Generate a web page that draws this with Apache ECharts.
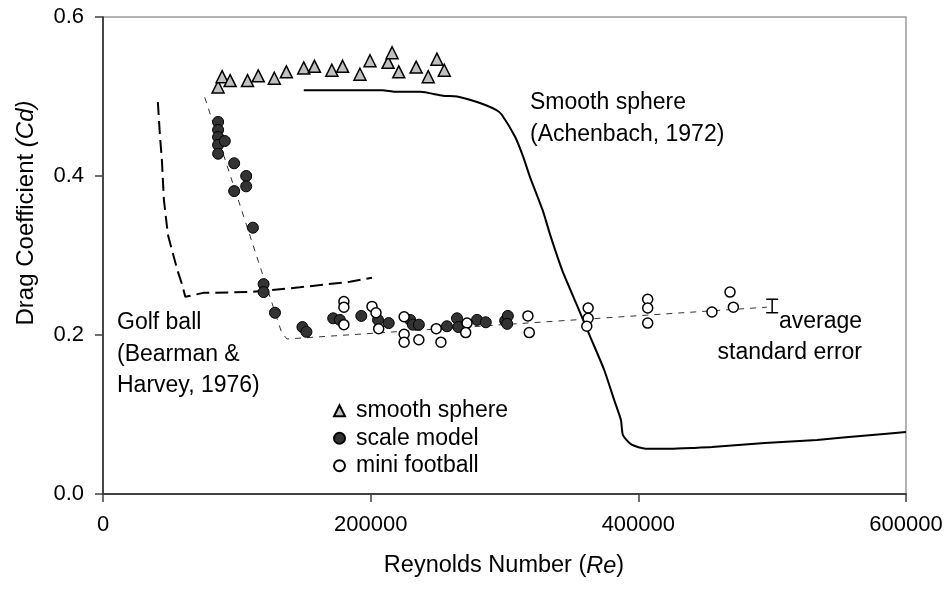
<!DOCTYPE html>
<html>
<head>
<meta charset="utf-8">
<script src="https://cdn.jsdelivr.net/npm/echarts@6/dist/echarts.min.js"></script>
<style>
  html, body { margin: 0; padding: 0; background: #fff; }
  #main { width: 950px; height: 591px; }
</style>
</head>
<body>
<div id="main"></div>
<script>
// smooth sphere wind tunnel points [Re, Cd]
const smoothSphere = [
  [86000, 0.512], [89000, 0.525], [95000, 0.520], [108000, 0.520], [116000, 0.526],
  [128000, 0.523], [137000, 0.531], [150000, 0.536], [158000, 0.538], [171000, 0.533],
  [179000, 0.538], [192000, 0.528], [199500, 0.545], [213000, 0.543], [216000, 0.555],
  [221000, 0.531], [234000, 0.537], [243000, 0.525], [249500, 0.547], [255000, 0.533]
];
// scale model points
const scaleModel = [
  [86000, 0.468], [86000, 0.458], [86000, 0.449], [86000, 0.439], [91000, 0.444],
  [86000, 0.428], [98000, 0.416], [107000, 0.400], [107000, 0.387], [98000, 0.381],
  [112000, 0.335], [120000, 0.264], [120000, 0.254], [128500, 0.228], [149000, 0.210],
  [152000, 0.204], [172000, 0.221], [177000, 0.219], [193000, 0.224], [205500, 0.219],
  [213500, 0.215], [229500, 0.219], [231500, 0.213], [236000, 0.213], [257000, 0.211],
  [264500, 0.221], [265500, 0.210], [279500, 0.219], [286000, 0.216], [300500, 0.218],
  [302500, 0.224], [302000, 0.214]
];
// mini football points
const miniFootball = [
  [180000, 0.242], [180000, 0.235], [180000, 0.213], [201000, 0.236], [204000, 0.228],
  [206000, 0.208], [225000, 0.223], [225000, 0.201], [225000, 0.191], [236000, 0.194],
  [249000, 0.208], [252500, 0.191], [272000, 0.215], [271000, 0.203], [317500, 0.224],
  [318500, 0.203], [362500, 0.234], [362500, 0.221], [361500, 0.211], [407000, 0.245],
  [407000, 0.234], [407000, 0.215], [455000, 0.229], [468500, 0.254], [471000, 0.235]
];
// Achenbach (1972) smooth sphere curve
const achenbach = [
  [150000, 0.508], [201000, 0.508], [209000, 0.508], [218000, 0.506], [237000, 0.506],
  [254000, 0.501], [264500, 0.500], [279500, 0.493], [294000, 0.483], [298000, 0.477],
  [308000, 0.449], [314000, 0.424], [319000, 0.399], [328500, 0.357], [334500, 0.324],
  [343000, 0.282], [353500, 0.240], [364000, 0.198], [374500, 0.156], [382000, 0.118],
  [387000, 0.093], [388500, 0.074], [395000, 0.062], [405500, 0.057], [423500, 0.057],
  [442000, 0.058], [455000, 0.059], [494500, 0.064], [533500, 0.068], [572500, 0.074],
  [600000, 0.078]
];
// golf ball (Bearman & Harvey, 1976)
const golfBall = [
  [41000, 0.493], [42500, 0.452], [44000, 0.420], [45500, 0.370], [48500, 0.326],
  [51500, 0.307], [55500, 0.282], [59000, 0.264], [61500, 0.248], [75000, 0.253],
  [110000, 0.254], [147000, 0.260], [184500, 0.267], [201000, 0.272]
];
// trend through scale model / mini football
const scaleModelFit = [
  [76000, 0.499], [133500, 0.203], [137500, 0.195], [496000, 0.235]
];
// average standard error bar [Re, low, high]
const errorBar = [[500000, 0.228, 0.245]];

const xTicks = [0, 200000, 400000, 600000];
const yTicks = [0.0, 0.2, 0.4, 0.6];

const FONT = '"Liberation Sans", Arial, sans-serif';

const chart = echarts.init(document.getElementById('main'));

const option = {
  animation: false,
  backgroundColor: '#fff',
  textStyle: { fontFamily: FONT, color: '#000' },
  grid: {
    left: 103, right: 44, top: 17, bottom: 97,
    show: true, borderColor: '#9a9a9a', borderWidth: 1.5
  },
  xAxis: {
    type: 'value',
    min: xTicks[0], max: xTicks[xTicks.length - 1], interval: 200000,
    axisLine: { show: true, lineStyle: { color: '#404040', width: 2 } },
    axisTick: { show: true, length: 8, lineStyle: { color: '#404040', width: 1.5 } },
    axisLabel: {
      fontSize: 22, color: '#000', margin: 20, fontFamily: FONT,
      formatter: (v) => String(v)
    },
    splitLine: { show: false }
  },
  yAxis: {
    type: 'value',
    min: yTicks[0], max: yTicks[yTicks.length - 1], interval: 0.2,
    axisLine: { show: true, lineStyle: { color: '#222', width: 1.5 } },
    axisTick: { show: true, length: 8, lineStyle: { color: '#404040', width: 1.5 } },
    axisLabel: {
      fontSize: 22, color: '#000', margin: 19, fontFamily: FONT,
      formatter: (v) => v.toFixed(1)
    },
    splitLine: { show: false }
  },
  legend: {
    orient: 'vertical',
    left: 328, top: 392,
    itemWidth: 11, itemHeight: 11, itemGap: 0,
    data: ['smooth sphere', 'scale model', 'mini football'],
    textStyle: { fontSize: 23, color: '#000', fontFamily: FONT, lineHeight: 27.5, padding: [0, 0, 0, 6] }
  },
  graphic: [
    {
      type: 'text', x: 26, y: 213, rotation: Math.PI / 2,
      style: {
        text: '{n|Drag Coefficient }{i|(Cd)}',
        align: 'center', verticalAlign: 'middle',
        rich: {
          n: { fontSize: 24, fontFamily: FONT, fill: '#000' },
          i: { fontSize: 24, fontFamily: FONT, fontStyle: 'italic', fill: '#000' }
        }
      }
    },
    {
      type: 'text', x: 504, y: 566,
      style: {
        text: '{n|Reynolds Number (}{i|Re}{n|)}',
        align: 'center', verticalAlign: 'middle',
        rich: {
          n: { fontSize: 23.5, fontFamily: FONT, fill: '#000' },
          i: { fontSize: 23.5, fontFamily: FONT, fontStyle: 'italic', fill: '#000' }
        }
      }
    },
    { type: 'text', x: 530, y: 103, style: { text: 'Smooth sphere', font: '23px ' + FONT, fill: '#000', align: 'left', verticalAlign: 'middle' } },
    { type: 'text', x: 530, y: 135, style: { text: '(Achenbach, 1972)', font: '23px ' + FONT, fill: '#000', align: 'left', verticalAlign: 'middle' } },
    { type: 'text', x: 117, y: 323, style: { text: 'Golf ball', font: '23px ' + FONT, fill: '#000', align: 'left', verticalAlign: 'middle' } },
    { type: 'text', x: 117, y: 355, style: { text: '(Bearman &', font: '23px ' + FONT, fill: '#000', align: 'left', verticalAlign: 'middle' } },
    { type: 'text', x: 117, y: 386, style: { text: 'Harvey, 1976)', font: '23px ' + FONT, fill: '#000', align: 'left', verticalAlign: 'middle' } },
    { type: 'text', x: 862, y: 322, style: { text: 'average', font: '23px ' + FONT, fill: '#000', align: 'right', verticalAlign: 'middle' } },
    { type: 'text', x: 862, y: 353, style: { text: 'standard error', font: '23px ' + FONT, fill: '#000', align: 'right', verticalAlign: 'middle' } }
  ],
  series: [
    {
      name: 'Achenbach', type: 'line', data: achenbach,
      showSymbol: false, smooth: 0.2, z: 2,
      lineStyle: { color: '#000', width: 2 }
    },
    {
      name: 'Golf ball', type: 'line', data: golfBall,
      showSymbol: false, z: 2,
      lineStyle: { color: '#000', width: 2, type: [13, 6] }
    },
    {
      name: 'fit', type: 'line', data: scaleModelFit,
      showSymbol: false, z: 2,
      lineStyle: { color: '#333', width: 1, type: [6, 6] }
    },
    {
      name: 'error', type: 'custom', data: errorBar, z: 3,
      renderItem: (params, api) => {
        const top = api.coord([api.value(0), api.value(2)]);
        const bot = api.coord([api.value(0), api.value(1)]);
        const w = 6;
        const st = { stroke: '#000', lineWidth: 1.5 };
        return {
          type: 'group',
          children: [
            { type: 'line', shape: { x1: top[0], y1: top[1], x2: bot[0], y2: bot[1] }, style: st },
            { type: 'line', shape: { x1: top[0] - w, y1: top[1], x2: top[0] + w, y2: top[1] }, style: st },
            { type: 'line', shape: { x1: bot[0] - w, y1: bot[1], x2: bot[0] + w, y2: bot[1] }, style: st }
          ]
        };
      }
    },
    {
      name: 'smooth sphere', type: 'scatter', data: smoothSphere,
      symbol: 'triangle', symbolSize: 12, z: 4,
      itemStyle: { color: '#c0c0c0', borderColor: '#000', borderWidth: 1.5, opacity: 1 }
    },
    {
      name: 'scale model', type: 'scatter', data: scaleModel,
      symbol: 'circle', symbolSize: 11, z: 4,
      itemStyle: { color: '#333', borderColor: '#000', borderWidth: 1, opacity: 1 }
    },
    {
      name: 'mini football', type: 'scatter', data: miniFootball,
      symbol: 'circle', symbolSize: 10, z: 5,
      itemStyle: { color: '#fff', borderColor: '#000', borderWidth: 1.5, opacity: 1 }
    }
  ]
};

chart.setOption(option);
</script>
</body>
</html>
